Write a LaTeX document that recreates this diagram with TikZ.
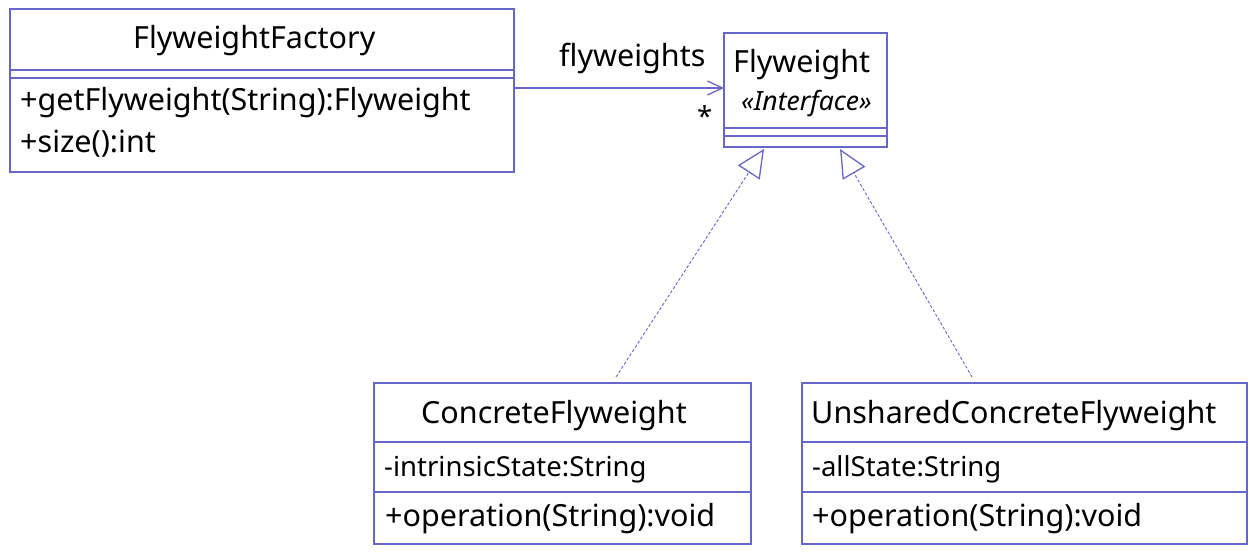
\documentclass[tikz,border=0pt]{standalone}
\usepackage{fontspec}
\setmainfont{Noto Sans}
\usetikzlibrary{arrows.meta,calc}
\definecolor{umlline}{RGB}{102,102,204}
\begin{document}
\begin{tikzpicture}[x=1pt,y=-1pt,
  comp/.style={draw=umlline,line width=1.1pt,fill=white,inner sep=0pt,outer sep=0pt,anchor=north west},
  big/.style={font=\fontsize{30.5}{34}\selectfont,inner sep=0pt,anchor=base west},
  mid/.style={font=\fontsize{27.5}{31}\selectfont,inner sep=0pt,anchor=base west},
  itl/.style={font=\fontsize{26.5}{30}\selectfont\itshape,inner sep=0pt,anchor=base west},
  assoc/.style={draw=umlline,line width=1.1pt,-{Straight Barb[length=15pt,width=14pt,line width=1.3pt]}},
  realize/.style={draw=umlline,line width=0.9pt,dash pattern=on 3pt off 2pt,-{Triangle[open,length=28pt,width=26pt,line width=1.3pt,fill=white]}}
]
\useasboundingbox (0,0) rectangle (1258,553);
% FlyweightFactory
\node[comp,minimum width=504pt,minimum height=61pt] (facN) at (10,9) {};
\node[comp,minimum width=504pt,minimum height=8pt] (facA) at (10,70) {};
\node[comp,minimum width=504pt,minimum height=94pt] (facO) at (10,78) {};
\node[big] (facT) at (133,49) {FlyweightFactory};
\node[big] (facM1) at (20,111) {+getFlyweight(String):Flyweight};
\node[big] (facM2) at (20,153) {+size():int};
% Flyweight
\node[comp,minimum width=163pt,minimum height=95pt] (flyN) at (724,33) {};
\node[comp,minimum width=163pt,minimum height=8pt] (flyA) at (724,128) {};
\node[comp,minimum width=163pt,minimum height=11pt] (flyO) at (724,136) {};
\node[big] (flyT) at (733,73) {Flyweight};
\node[itl] (flyS) at (741,111) {«Interface»};
% ConcreteFlyweight
\node[comp,minimum width=377pt,minimum height=59pt] (conN) at (374,383) {};
\node[comp,minimum width=377pt,minimum height=50pt] (conA) at (374,442) {};
\node[comp,minimum width=377pt,minimum height=52pt] (conO) at (374,492) {};
\node[big] (conT) at (421,423) {ConcreteFlyweight};
\node[mid] (conA1) at (384,476) {-intrinsicState:String};
\node[big] (conO1) at (385,526) {+operation(String):void};
% UnsharedConcreteFlyweight
\node[comp,minimum width=445pt,minimum height=59pt] (unsN) at (802,383) {};
\node[comp,minimum width=445pt,minimum height=50pt] (unsA) at (802,442) {};
\node[comp,minimum width=445pt,minimum height=52pt] (unsO) at (802,492) {};
\node[big] (unsT) at (811,423) {UnsharedConcreteFlyweight};
\node[mid] (unsA1) at (812,476) {-allState:String};
\node[big] (unsO1) at (812,526) {+operation(String):void};
% association
\coordinate (aS) at (facO.north east |- 0,88);
\coordinate (aE) at (flyN.west |- 0,88);
\draw[assoc] (aS) -- (aE);
\node[big] (lbl) at (559,67) {flyweights};
\node[mid] (star) at (697,127) {*};
% realizations
\coordinate (c1) at (616,377);
\coordinate (t1) at (764,149);
\coordinate (c2) at (972,377);
\coordinate (t2) at (840,149);
\draw[realize] (c1) -- (t1);
\draw[realize] (c2) -- (t2);
\end{tikzpicture}
\end{document}
